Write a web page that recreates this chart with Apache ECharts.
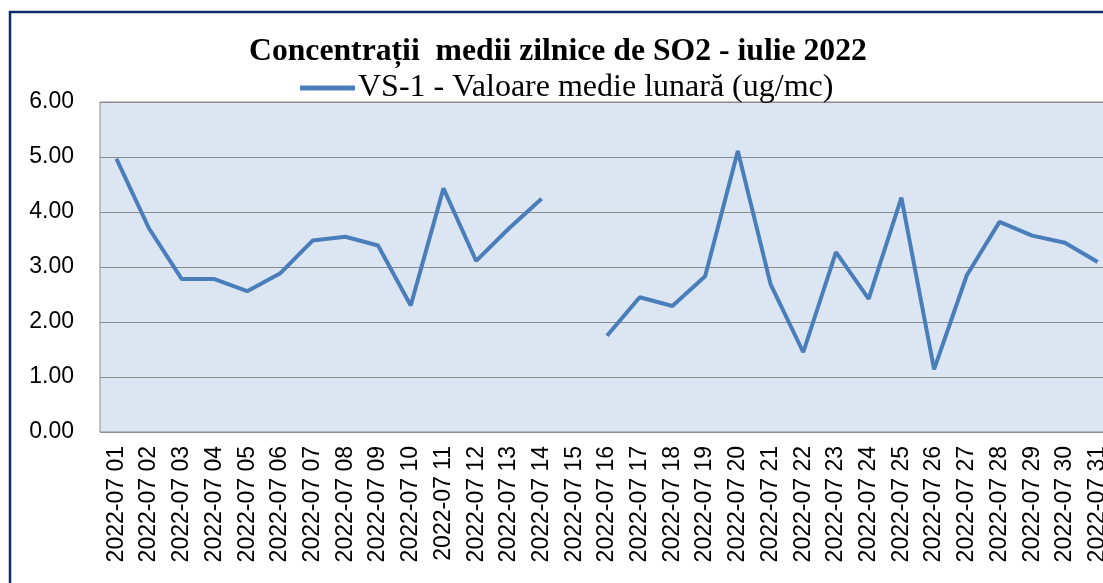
<!DOCTYPE html>
<html>
<head>
<meta charset="utf-8">
<script src="https://cdn.jsdelivr.net/npm/echarts@6/dist/echarts.min.js"></script>
<style>
  html, body { margin: 0; padding: 0; background: #fff; }
  #chart { width: 1103px; height: 583px; }
</style>
</head>
<body>
<div id="chart"></div>
<script>
const days = [
  '2022-07 01', '2022-07 02', '2022-07 03', '2022-07 04', '2022-07 05',
  '2022-07 06', '2022-07 07', '2022-07 08', '2022-07 09', '2022-07 10',
  '2022-07 11', '2022-07 12', '2022-07 13', '2022-07 14', '2022-07 15',
  '2022-07 16', '2022-07 17', '2022-07 18', '2022-07 19', '2022-07 20',
  '2022-07 21', '2022-07 22', '2022-07 23', '2022-07 24', '2022-07 25',
  '2022-07 26', '2022-07 27', '2022-07 28', '2022-07 29', '2022-07 30',
  '2022-07 31',
]

// VS-1 daily means, ug/mc (day 15 missing)
const vs1 = [
  4.97, 3.70, 2.78, 2.78, 2.56, 2.88, 3.48, 3.55, 3.39, 2.30,
  4.43, 3.11, 3.70, 4.24, null, 1.75, 2.45, 2.29, 2.83, 5.11,
  2.69, 1.45, 3.27, 2.42, 4.26, 1.14, 2.85, 3.82, 3.57, 3.44,
  3.09,
]

const titleText = 'Concentrații  medii zilnice de SO2 - iulie 2022'
const seriesName = 'VS-1 - Valoare medie lunară (ug/mc)'

const chart = echarts.init(document.getElementById('chart'))

chart.setOption({
  animation: false,
  backgroundColor: '#fff',
  graphic: [
    {
      type: 'rect',
      shape: { x: 10, y: 12, width: 1200, height: 700 },
      style: { fill: 'none', stroke: '#0f2d6b', lineWidth: 2.5 },
      silent: true,
    },
  ],
  title: {
    text: titleText,
    left: 249,
    top: 36,
    padding: 0,
    textStyle: {
      fontFamily: 'Liberation Serif',
      fontWeight: 'bold',
      fontSize: 31.7,
      color: '#000',
    },
  },
  legend: {
    left: 300,
    top: 72,
    padding: 0,
    itemWidth: 55,
    itemHeight: 5,
    itemGap: 4,
    data: [{ name: seriesName, icon: 'rect' }],
    textStyle: {
      fontFamily: 'Liberation Serif',
      fontSize: 32,
      color: '#000',
      padding: [0, 0, 0, -2],
    },
  },
  grid: {
    left: 100,
    top: 102,
    width: 1014,
    height: 330,
    outerBoundsMode: 'none',
    show: true,
    backgroundColor: '#dce6f2',
    borderColor: '#8c8c8c',
    borderWidth: 1,
  },
  xAxis: {
    type: 'category',
    data: days,
    boundaryGap: true,
    axisLine: { show: false },
    axisTick: { show: false },
    axisLabel: {
      rotate: 90,
      interval: 0,
      margin: 14,
      fontFamily: 'Liberation Sans',
      fontSize: 23,
      color: '#000',
    },
  },
  yAxis: {
    type: 'value',
    min: 0,
    max: 6,
    interval: 1,
    axisLine: { show: false },
    axisTick: { show: false },
    splitLine: { lineStyle: { color: '#8c8c8c', width: 1 } },
    axisLabel: {
      margin: 26,
      fontFamily: 'Liberation Sans',
      fontSize: 23,
      color: '#000',
      formatter: (v) => v.toFixed(2),
    },
  },
  series: [
    {
      name: seriesName,
      type: 'line',
      data: vs1,
      connectNulls: false,
      showSymbol: false,
      color: '#4a7ebb',
      lineStyle: { width: 4, color: '#4a7ebb' },
    },
  ],
})
</script>
</body>
</html>
